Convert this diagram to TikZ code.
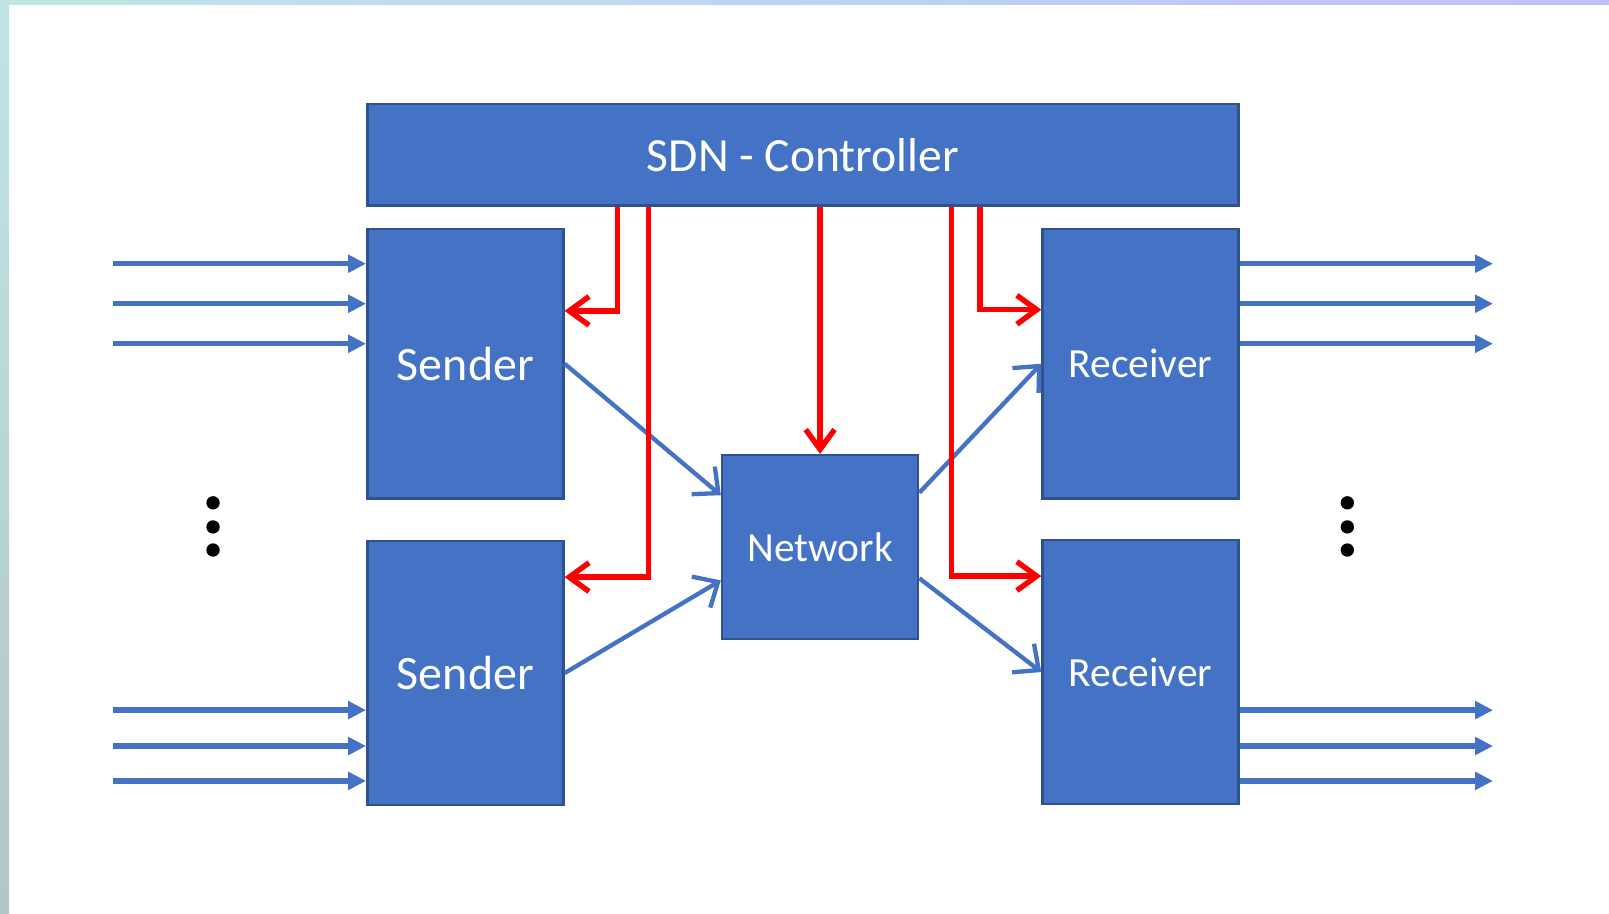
\documentclass[tikz,border=0pt]{standalone}
\usepackage{fontspec}
\setmainfont{Carlito}
\usetikzlibrary{positioning, arrows.meta, calc}
\definecolor{boxblue}{HTML}{4472C4}
\definecolor{boxedge}{HTML}{2F528F}
\tikzset{
	block/.style={draw=boxedge, line width=0.7pt, fill=boxblue, text=white, minimum width=1.91cm, inner sep=0pt},
	feed/.style={draw=boxblue, line width=1.5pt, -{Triangle[length=5pt,width=4.8pt]}},
	flow/.style={draw=boxblue, line width=1.2pt, -{Straight Barb[length=5.5pt,width=10pt]}},
	signal/.style={draw=red, line width=1.5pt, -{Straight Barb[length=5.5pt,width=8pt]}},
	dot/.style={circle, fill=black, inner sep=0pt, minimum size=0.13cm},
}

\begin{document}
\begin{tikzpicture}
			\useasboundingbox (0,0) rectangle (15.68,-8.907);
			% frame of the slide
			\fill[left color=cyan!20!teal!25, right color=blue!25!white] (0,0) rectangle (15.68,-0.04);
			\fill[top color=cyan!20!teal!25, bottom color=teal!35!gray!45] (0,0) rectangle (0.088,-8.907);
			
			\node [block, minimum width=8.49cm, minimum height=0.99cm, font=\fontsize{13.2}{16}\selectfont] (CTRL) at (7.825,-1.51) {SDN - Controller};
			\node [block, minimum height=2.63cm, below right=0.2cm and 0cm of CTRL.south west, font=\fontsize{13.3}{16}\selectfont] (SENDone) {Sender};
			\node [block, minimum height=2.57cm, below=0.39cm of SENDone, font=\fontsize{13.3}{16}\selectfont] (SENDtwo) {Sender};
			\node [block, minimum height=2.63cm, below left=0.2cm and 0cm of CTRL.south east, font=\fontsize{11.5}{14}\selectfont] (RECVone) {Receiver};
			\node [block, minimum height=2.57cm, below=0.38cm of RECVone, font=\fontsize{11.5}{14}\selectfont] (RECVtwo) {Receiver};
			\node [block, minimum height=1.79cm, font=\fontsize{11.5}{14}\selectfont] (NET) at (7.992,-5.331) {Network};
			
			% traffic in and out
			\foreach \y [count=\i] in {2.57,2.96,3.35} {
				\coordinate (INa\i) at (1.10,-\y);
				\coordinate (OUTa\i) at (14.55,-\y);
				\draw[feed] (INa\i) -- (INa\i -| SENDone.west);
				\draw[feed] (OUTa\i -| RECVone.east) -- (OUTa\i);
			}
			\foreach \y [count=\i] in {6.92,7.27,7.61} {
				\coordinate (INb\i) at (1.10,-\y);
				\coordinate (OUTb\i) at (14.55,-\y);
				\draw[feed] (INb\i) -- (INb\i -| SENDtwo.west);
				\draw[feed] (OUTb\i -| RECVtwo.east) -- (OUTb\i);
			}
			\foreach \y [count=\i] in {4.90,5.135,5.36} {
				\node [dot] (DOTl\i) at (2.076,-\y) {};
				\node [dot] (DOTr\i) at (13.13,-\y) {};
			}
			
			% data path
			\draw[flow] (SENDone.east) -- ([yshift=0.505cm]NET.west);
			\draw[flow] (SENDtwo.east) -- ([yshift=-0.325cm]NET.west);
			\draw[flow] ([yshift=0.53cm]NET.east) -- (RECVone.west);
			\draw[flow] ([yshift=-0.305cm]NET.east) -- (RECVtwo.west);
			
			% control path
			\draw[signal] ([xshift=-1.805cm]CTRL.south) |- ([yshift=0.515cm]SENDone.east);
			\draw[signal] ([xshift=-1.505cm]CTRL.south) |- ([yshift=0.935cm]SENDtwo.east);
			\draw[signal] (NET.north |- CTRL.south) -- (NET.north);
			\draw[signal] ([xshift=1.445cm]CTRL.south) |- ([yshift=0.935cm]RECVtwo.west);
			\draw[signal] ([xshift=1.725cm]CTRL.south) |- ([yshift=0.526cm]RECVone.west);
			
		\end{tikzpicture}
\end{document}
